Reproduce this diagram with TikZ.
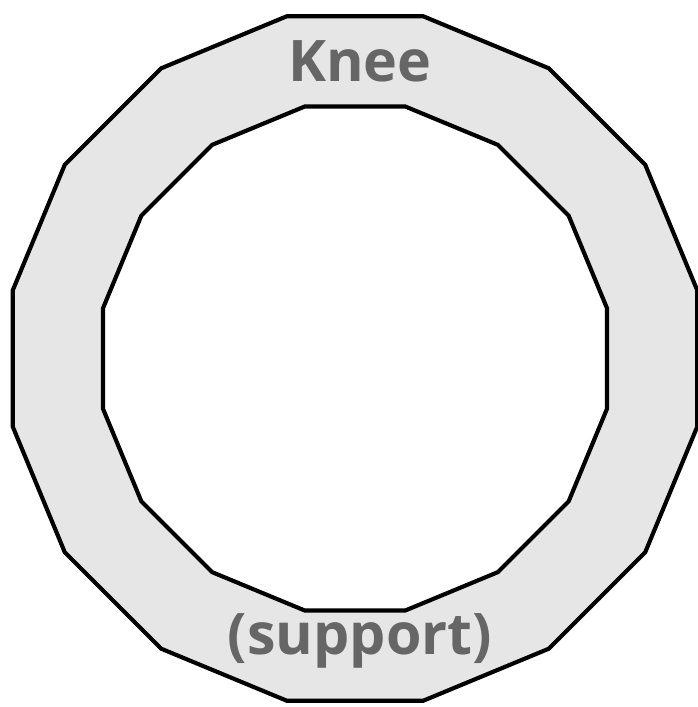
\documentclass[tikz,border=0pt]{standalone}
\usepackage{fontspec}
\setmainfont{Open Sans}
\definecolor{ringgray}{HTML}{E6E6E6}
\definecolor{textgray}{HTML}{666666}
\begin{document}
\begin{tikzpicture}[x=0.75pt,y=-0.75pt,
  ringline/.style={line width=3.1pt,line join=miter,draw=black},
  lbl/.style={font=\bfseries\fontsize{43}{50}\selectfont,text=textgray,inner sep=0pt}]
\useasboundingbox (0,0) rectangle (698,707);
\draw[ringline,fill=ringgray] plot[samples at={0,...,15},variable=\k] ({355+349*cos(11.25+22.5*\k)},{358.5+349*sin(11.25+22.5*\k)}) -- cycle;
\draw[ringline,fill=white] plot[samples at={0,...,15},variable=\k] ({355+257*cos(11.25+22.5*\k)},{358.5+257*sin(11.25+22.5*\k)}) -- cycle;
\node[lbl] (knee) at (360,61) {Knee};
\node[lbl] (support) at (360,641) {(support)};
\end{tikzpicture}
\end{document}
